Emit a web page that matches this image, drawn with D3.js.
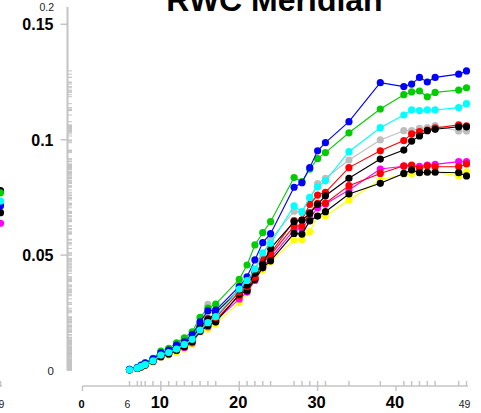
<!DOCTYPE html>
<html>
<head>
<meta charset="utf-8">
<script src="https://cdn.jsdelivr.net/npm/d3@7"></script>
<style>
  html, body { margin: 0; padding: 0; background: #fff; }
  svg { display: block; }
  text { font-family: Arial, "Liberation Sans", sans-serif; }
</style>
</head>
<body>
<svg id="chart" width="481" height="413"></svg>
<script>
// Sampling times (x) shared by all series
const xValues = [6, 7, 7.5, 8, 9, 10, 11, 12, 13, 14, 15, 16, 17, 20, 21, 22, 23, 24,
                 27, 28, 29, 30, 31, 34, 38, 41, 42, 43, 44, 45, 48, 49];

// Series values, listed in drawing order (first drawn at the back)
const gray    = [0.0005, 0.0012, 0.0020, 0.0030, 0.0048, 0.0074, 0.0086, 0.0105, 0.0125, 0.0150,
                 0.0195, 0.0287, 0.0255, 0.0370, 0.0385, 0.0430, 0.0500, 0.0568, 0.0690, 0.0685,
                 0.0745, 0.0810, 0.0833, 0.0912, 0.0999, 0.1039, 0.1039, 0.1049, 0.1052, 0.1061,
                 0.1038, 0.1038];
const yellow  = [0.0002, 0.0008, 0.0014, 0.0021, 0.0035, 0.0057, 0.0067, 0.0078, 0.0093, 0.0114,
                 0.0165, 0.0180, 0.0201, 0.0295, 0.0337, 0.0389, 0.0435, 0.0471, 0.0565, 0.0568,
                 0.0601, 0.0669, 0.0669, 0.0739, 0.0825, 0.0850, 0.0854, 0.0857, 0.0859, 0.0859,
                 0.0843, 0.0861];
const magenta = [0.0003, 0.0009, 0.0016, 0.0024, 0.0040, 0.0060, 0.0072, 0.0088, 0.0100, 0.0120,
                 0.0170, 0.0190, 0.0215, 0.0310, 0.0340, 0.0390, 0.0450, 0.0486, 0.0610, 0.0615,
                 0.0660, 0.0705, 0.0721, 0.0782, 0.0873, 0.0885, 0.0888, 0.0885, 0.0890, 0.0893,
                 0.0905, 0.0905];
const redLow  = [0.0003, 0.0010, 0.0017, 0.0026, 0.0042, 0.0063, 0.0074, 0.0090, 0.0105, 0.0130,
                 0.0175, 0.0210, 0.0220, 0.0324, 0.0350, 0.0400, 0.0465, 0.0500, 0.0626, 0.0626,
                 0.0684, 0.0724, 0.0725, 0.0801, 0.0854, 0.0887, 0.0890, 0.0876, 0.0887, 0.0883,
                 0.0883, 0.0895];
const blackLow= [0.0003, 0.0009, 0.0016, 0.0024, 0.0040, 0.0060, 0.0072, 0.0088, 0.0103, 0.0125,
                 0.0170, 0.0195, 0.0210, 0.0330, 0.0345, 0.0395, 0.0445, 0.0475, 0.0594, 0.0591,
                 0.0648, 0.0669, 0.0688, 0.0765, 0.0811, 0.0854, 0.0869, 0.0857, 0.0859, 0.0859,
                 0.0857, 0.0843];
const redHigh = [0.0004, 0.0011, 0.0019, 0.0028, 0.0045, 0.0070, 0.0080, 0.0100, 0.0118, 0.0140,
                 0.0185, 0.0226, 0.0230, 0.0340, 0.0363, 0.0404, 0.0482, 0.0508, 0.0649, 0.0652,
                 0.0720, 0.0760, 0.0772, 0.0879, 0.0952, 0.0996, 0.1025, 0.1035, 0.1042, 0.1051,
                 0.1064, 0.1060];
const blackHigh=[0.0004, 0.0011, 0.0019, 0.0028, 0.0045, 0.0070, 0.0081, 0.0102, 0.0120, 0.0143,
                 0.0190, 0.0220, 0.0250, 0.0350, 0.0370, 0.0421, 0.0460, 0.0529, 0.0645, 0.0652,
                 0.0680, 0.0720, 0.0757, 0.0833, 0.0916, 0.0955, 0.0994, 0.1016, 0.1039, 0.1045,
                 0.1056, 0.1056];
const green   = [0.0005, 0.0014, 0.0024, 0.0034, 0.0053, 0.0084, 0.0096, 0.0120, 0.0142, 0.0168,
                 0.0230, 0.0270, 0.0288, 0.0395, 0.0457, 0.0544, 0.0597, 0.0645, 0.0836, 0.0818,
                 0.0872, 0.0918, 0.0944, 0.1030, 0.1133, 0.1195, 0.1207, 0.1211, 0.1186, 0.1205,
                 0.1215, 0.1225];
const blue    = [0.0005, 0.0013, 0.0022, 0.0032, 0.0050, 0.0076, 0.0088, 0.0110, 0.0124, 0.0156,
                 0.0211, 0.0258, 0.0262, 0.0363, 0.0406, 0.0479, 0.0554, 0.0593, 0.0794, 0.0814,
                 0.0879, 0.0952, 0.0987, 0.1078, 0.1247, 0.1230, 0.1241, 0.1270, 0.1250, 0.1270,
                 0.1284, 0.1298];
const cyan    = [0.0003, 0.0010, 0.0018, 0.0026, 0.0042, 0.0067, 0.0078, 0.0093, 0.0113, 0.0135,
                 0.0175, 0.0207, 0.0233, 0.0353, 0.0390, 0.0440, 0.0510, 0.0551, 0.0713, 0.0688,
                 0.0750, 0.0796, 0.0822, 0.0948, 0.1052, 0.1107, 0.1129, 0.1126, 0.1129, 0.1129,
                 0.1139, 0.1156];

const seriesValues = [gray, yellow, magenta, redLow, blackLow, redHigh, blackHigh, green, blue, cyan];
const seriesColors = ["#bebebe", "#ffff00", "#ff00ff", "#ff0000", "#000000",
                      "#ff0000", "#000000", "#00cd00", "#0000ff", "#00ffff"];

// Last points of the neighbouring panel on the left (only its right edge shows)
const prevX = [49];
const prevValues = [[0.0780], [0.0770], [0.0714], [0.0734], [0.0684], [0.0638]];
const prevColors = ["#000000", "#00cd00", "#0000ff", "#00ffff", "#000000", "#ff00ff"];

// Axis ticks and labels
const title = "RWC Meridian";
const yMajorTicks = [0.05, 0.1, 0.15];
const yMajorLabels = ["0.05", "0.1", "0.15"];
const yFrame = [0, 0.1575];
const xMajorTicks = [0, 10, 20, 30, 40];
const xMajorLabels = ["0", "10", "20", "30", "40"];
const xFrame = [0, 49.2];

const W = 481, H = 413;
const svg = d3.select("#chart");
svg.append("rect").attr("width", W).attr("height", H).attr("fill", "#fff");

const x = d3.scaleLinear().domain([0, 49]).range([82.5, 466.5]);
const y = d3.scaleLinear().domain([0, 0.15]).range([370.5, 24.3]);
const axisColor = "#c4c4c4";
const xAxisY = 386;
const yAxisX = 67.5;

function drawSeries(g, xs, valuesList, colors) {
  const line = d3.line().x((d, i) => x(xs[i])).y(d => y(d));
  valuesList.forEach((vals, k) => {
    const s = g.append("g");
    s.append("path")
      .attr("d", line(vals))
      .attr("fill", "none")
      .attr("stroke", colors[k])
      .attr("stroke-width", 1.1);
    s.selectAll("circle").data(vals).join("circle")
      .attr("cx", (d, i) => x(xs[i]))
      .attr("cy", d => y(d))
      .attr("r", 3.6)
      .attr("fill", colors[k]);
  });
}

function drawXAxis(g, xs, showMajor) {
  const fmt = d3.format("~r");
  // range frame line
  g.append("line")
    .attr("x1", x(xFrame[0])).attr("x2", x(xFrame[1]))
    .attr("y1", xAxisY).attr("y2", xAxisY)
    .attr("stroke", axisColor).attr("stroke-width", 1.5);
  // rug of sampling times
  g.selectAll("line.rug").data(xs).join("line").attr("class", "rug")
    .attr("x1", d => x(d)).attr("x2", d => x(d))
    .attr("y1", xAxisY).attr("y2", xAxisY - 5)
    .attr("stroke", axisColor).attr("stroke-width", 1.5);
  // min / max labels
  const ext = d3.extent(xs);
  g.selectAll("text.ext").data(ext).join("text").attr("class", "ext")
    .attr("x", d => x(d) - 2).attr("y", 408)
    .attr("text-anchor", "middle").attr("font-size", 10.5).attr("fill", "#222")
    .text(d => fmt(d));
  if (showMajor) {
    g.selectAll("line.major").data(xMajorTicks).join("line").attr("class", "major")
      .attr("x1", d => x(d)).attr("x2", d => x(d))
      .attr("y1", xAxisY).attr("y2", xAxisY + 5)
      .attr("stroke", axisColor).attr("stroke-width", 1.5);
    g.selectAll("text.major").data(xMajorTicks).join("text").attr("class", "major")
      .attr("x", d => x(d) - 1).attr("y", 408)
      .attr("text-anchor", "middle")
      .attr("font-weight", "bold")
      .attr("font-size", d => d === 0 ? 11 : 16.5)
      .text((d, i) => xMajorLabels[i]);
  }
}

// neighbouring panel, shifted left so only its right edge remains in view
const prev = svg.append("g").attr("transform", "translate(-466,0)");
drawXAxis(prev, xValues, false);
drawSeries(prev, prevX, prevValues, prevColors);

// main panel
const main = svg.append("g");

// y axis: range frame, rug of all values, major ticks
main.append("line")
  .attr("x1", yAxisX).attr("x2", yAxisX)
  .attr("y1", y(yFrame[0])).attr("y2", y(yFrame[1]))
  .attr("stroke", axisColor).attr("stroke-width", 2);
const allValues = seriesValues.flat();
main.selectAll("line.yrug").data(allValues).join("line").attr("class", "yrug")
  .attr("x1", yAxisX).attr("x2", yAxisX + 4.5)
  .attr("y1", d => y(d)).attr("y2", d => y(d))
  .attr("stroke", axisColor).attr("stroke-width", 1);
main.selectAll("line.ymajor").data(yMajorTicks).join("line").attr("class", "ymajor")
  .attr("x1", yAxisX - 7).attr("x2", yAxisX)
  .attr("y1", d => y(d)).attr("y2", d => y(d))
  .attr("stroke", axisColor).attr("stroke-width", 1.5);
main.selectAll("text.ymajor").data(yMajorTicks).join("text").attr("class", "ymajor")
  .attr("x", 53.5).attr("y", d => y(d) + 6)
  .attr("text-anchor", "end").attr("font-weight", "bold").attr("font-size", 16)
  .text((d, i) => yMajorLabels[i]);
const yFmt = d3.format(".1r");
main.selectAll("text.yframe").data(yFrame).join("text").attr("class", "yframe")
  .attr("x", 54).attr("y", d => y(d) + 4)
  .attr("text-anchor", "end").attr("font-size", d => d === 0 ? 11.5 : 10.5).attr("fill", "#222")
  .text(d => yFmt(d));

drawXAxis(main, xValues, true);
drawSeries(main, xValues, seriesValues, seriesColors);

// title, partly above the top edge
svg.append("text")
  .attr("x", 274.5).attr("y", 11)
  .attr("text-anchor", "middle")
  .attr("font-weight", "bold").attr("font-size", 32)
  .text(title);
</script>
</body>
</html>
